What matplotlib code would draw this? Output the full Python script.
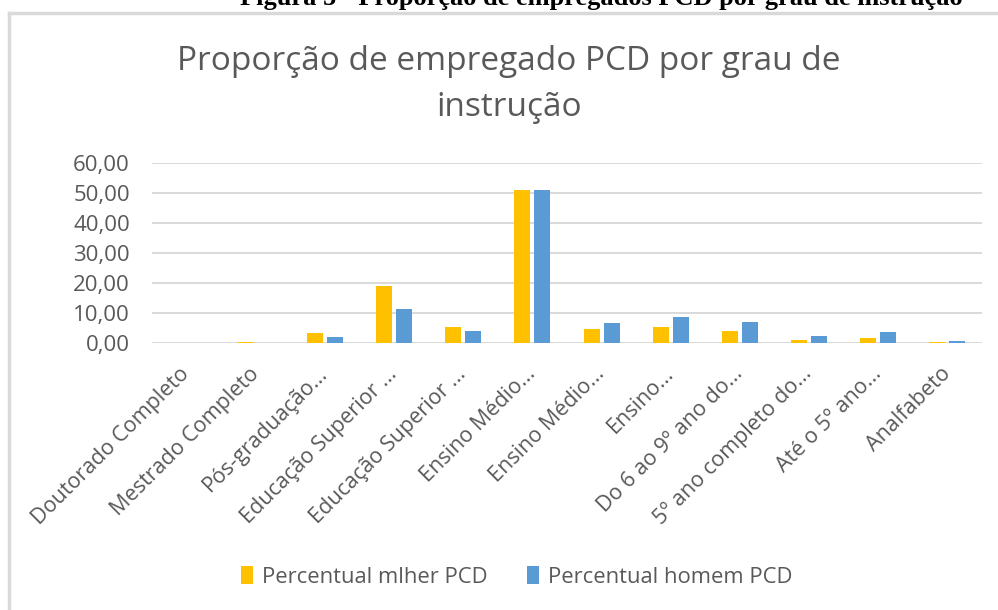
import numpy as np
import matplotlib.pyplot as plt
from matplotlib.lines import Line2D
from matplotlib.ticker import FuncFormatter

categorias = [
    "Doutorado Completo",
    "Mestrado Completo",
    "Pós-graduação...",
    "Educação Superior ...",
    "Educação Superior ...",
    "Ensino Médio...",
    "Ensino Médio...",
    "Ensino...",
    "Do 6 ao 9º ano do...",
    "5º ano completo do...",
    "Até o 5º ano...",
    "Analfabeto",
]
mulher_pcd = [0.0, 0.2, 3.2, 19.0, 5.4, 51.1, 4.8, 5.4, 4.0, 1.0, 1.7, 0.2]
homem_pcd = [0.0, 0.0, 1.9, 11.4, 3.9, 50.9, 6.7, 8.6, 7.0, 2.3, 3.6, 0.8]

plt.rcParams['font.family'] = ['Open Sans', 'DejaVu Sans']
cinza = "#595959"
amarelo = "#FFC000"
azul = "#5B9BD5"

W, H = 998, 610
fig = plt.figure(figsize=(W / 100, H / 100), dpi=100)
ax = fig.add_axes([152 / W, 1 - 343 / H, (982 - 152) / W, (343 - 163) / H])

x = np.arange(len(categorias))
ax.bar(x - 0.145, mulher_pcd, width=0.23, color=amarelo, label="Percentual mlher PCD", zorder=3)
ax.bar(x + 0.145, homem_pcd, width=0.23, color=azul, label="Percentual homem PCD", zorder=3)

ax.set_xlim(-0.5, len(categorias) - 0.5)
ax.set_ylim(0, 60)
ax.set_yticks(np.arange(0, 61, 10))
ax.yaxis.set_major_formatter(FuncFormatter(lambda v, p: f"{v:.2f}".replace(".", ",")))
ax.grid(axis="y", color="#D9D9D9", linewidth=1.4, zorder=0)
for s in ax.spines.values():
    s.set_visible(False)
ax.tick_params(axis="both", length=0, colors=cinza)
ax.tick_params(axis="y", labelsize=16, pad=16)
ax.tick_params(axis="x", labelsize=15.5, pad=20)
ax.set_xticks(x)
ax.set_xticklabels(categorias, rotation=45, ha="right", va="center", rotation_mode="anchor")

# titulo do grafico
fig.text(509 / W, 1 - 62 / H, "Proporção de empregado PCD por grau de", ha="center", va="center",
         fontsize=24, color=cinza)
fig.text(509 / W, 1 - 107 / H, "instrução", ha="center", va="center", fontsize=24, color=cinza)

# legenda
fig.legend(loc="center", bbox_to_anchor=(517 / W, 1 - 577 / H), ncol=2, frameon=False,
           fontsize=15.8, labelcolor=cinza, handlelength=0.55, handleheight=0.85,
           handletextpad=0.4, columnspacing=1.8)

# moldura do grafico (cortada na imagem original)
fig.add_artist(Line2D([9 / W, 1], [1 - 13 / H, 1 - 13 / H], transform=fig.transFigure,
                      color="#D9D9D9", linewidth=2.5))
fig.add_artist(Line2D([9 / W, 9 / W], [0, 1 - 13 / H], transform=fig.transFigure,
                      color="#D9D9D9", linewidth=2.5))

# legenda da figura no documento, cortada no topo como no original
fig.text(601 / W, 1 - 5 / H, "Figura 5 - Proporção de empregados PCD por grau de instrução",
         ha="center", va="baseline", fontsize=19, fontweight="bold", family="Liberation Serif",
         color="black")

fig.savefig("out.png", dpi=100)
